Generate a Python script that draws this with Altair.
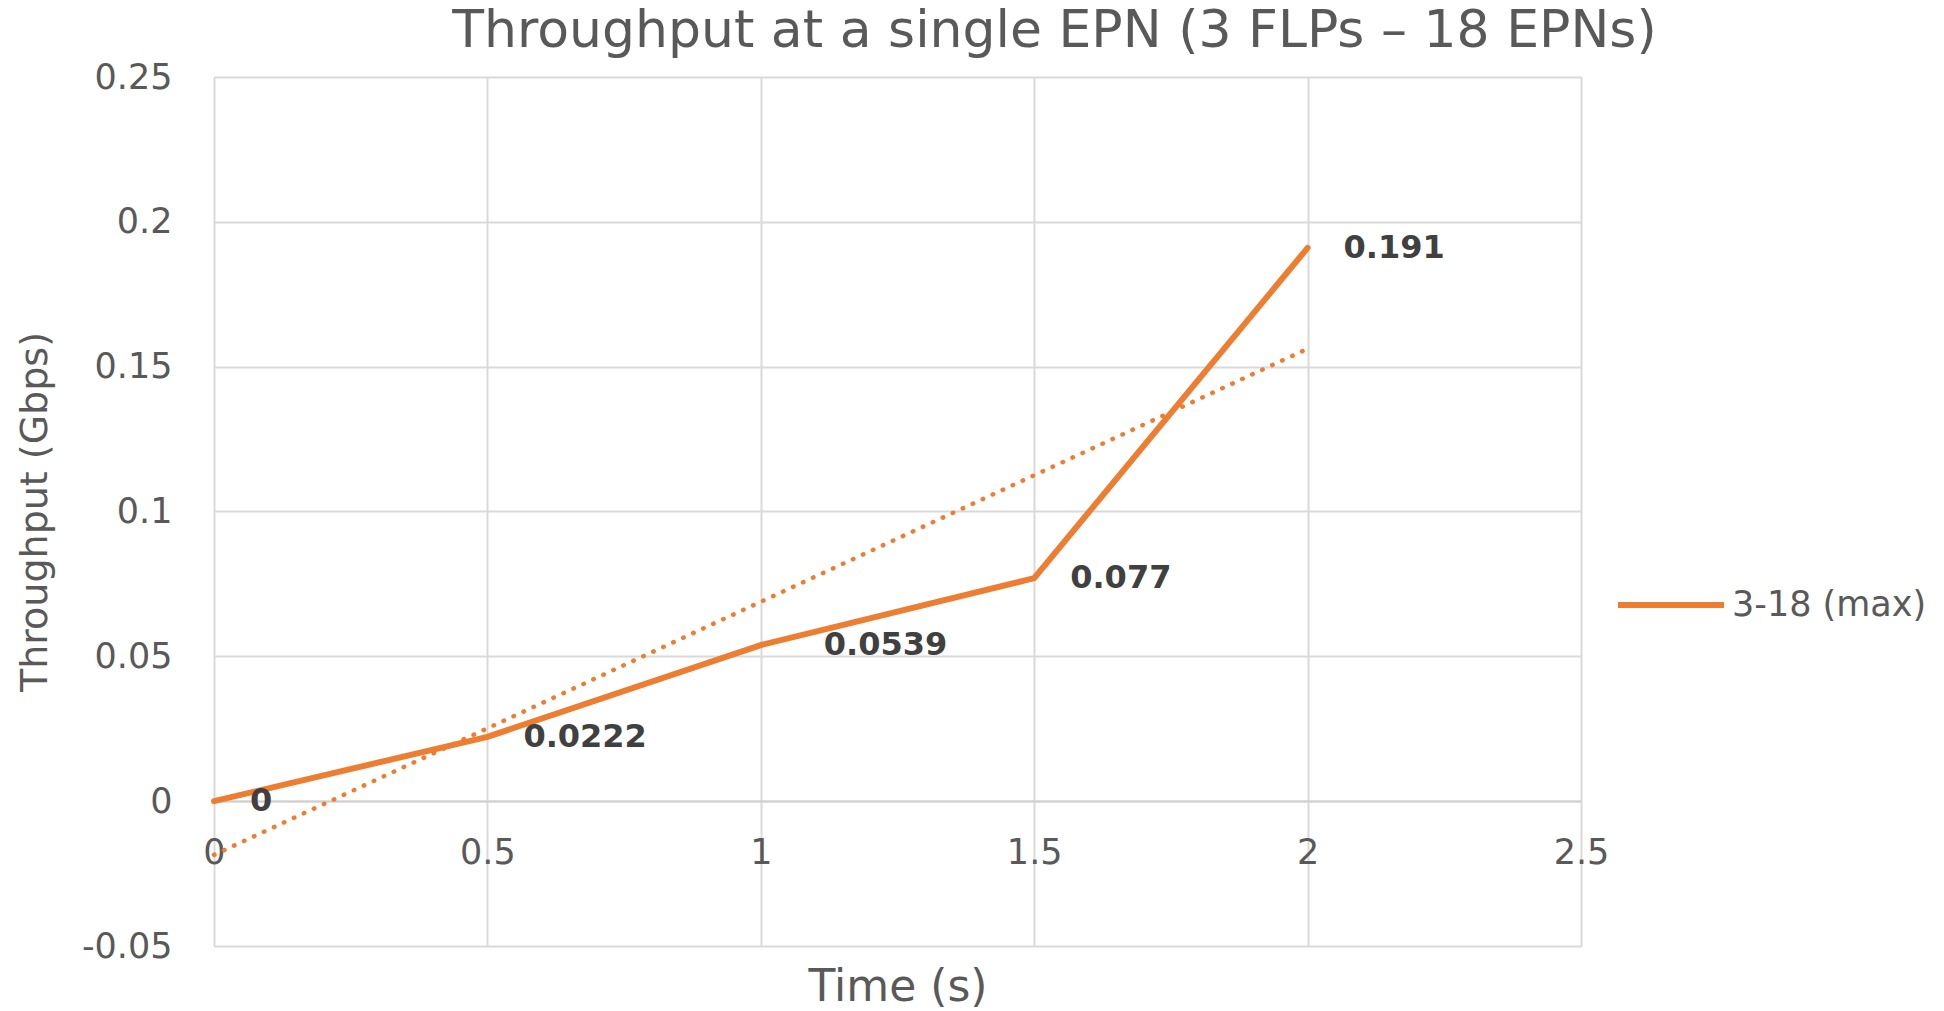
import altair as alt
import pandas as pd

# ---- data ----
times = [0, 0.5, 1, 1.5, 2]
throughput = [0, 0.0222, 0.0539, 0.077, 0.191]
labels = ["0", "0.0222", "0.0539", "0.077", "0.191"]
series = ["3-18 (max)"] * 5
x_ticks = [0, 0.5, 1, 1.5, 2, 2.5]
y_ticks = [-0.05, 0, 0.05, 0.1, 0.15, 0.2, 0.25]

df = pd.DataFrame({"Time": times, "Throughput": throughput,
                   "Label": labels, "Series": series})

FONT = "DejaVu Sans"
ORANGE = "#ED7D31"
GRAY = "#595959"
GRID = "#d9d9d9"

W, H = 1367, 869

x_enc = alt.X(
    "Time:Q",
    scale=alt.Scale(domain=[0, 2.5], nice=False, zero=False),
    axis=alt.Axis(
        values=x_ticks, labelExpr="'' + datum.value", title="Time (s)",
        offset=-145, grid=True, gridColor=GRID, gridWidth=2,
        domain=True, domainColor="#cfcfcf", domainWidth=2, ticks=False,
        labelFont=FONT, labelFontSize=35, labelColor=GRAY, labelPadding=51,
        labelBaseline="middle", labelFlush=False, labelOverlap=False,
        titleFont=FONT, titleFontSize=44, titleColor=GRAY, titleFontWeight="normal",
        titleX=W / 2, titleY=199, titleBaseline="alphabetic",
    ),
)
y_enc = alt.Y(
    "Throughput:Q",
    scale=alt.Scale(domain=[-0.05, 0.25], nice=False, zero=False),
    axis=alt.Axis(
        values=y_ticks, labelExpr="'' + datum.value", title="Throughput (Gbps)",
        grid=True, gridColor=GRID, gridWidth=2, domain=False, ticks=False,
        labelFont=FONT, labelFontSize=35, labelColor=GRAY, labelPadding=42,
        labelFlush=False, labelOverlap=False,
        titleFont=FONT, titleFontSize=38, titleColor=GRAY, titleFontWeight="normal",
        titleX=-179, titleY=H / 2, titleAngle=-90, titleBaseline="middle",
    ),
)

base = alt.Chart(df).encode(x=x_enc, y=y_enc)

trend = base.transform_regression("Time", "Throughput", method="linear").mark_line(
    color=ORANGE, strokeWidth=4.5, strokeDash=[0.5, 10.5], strokeCap="round"
)

line = base.mark_line(strokeWidth=6, strokeCap="round", strokeJoin="round").encode(
    color=alt.Color(
        "Series:N",
        scale=alt.Scale(range=[ORANGE]),
        legend=alt.Legend(
            title=None, orient="none", legendX=1401, legendY=472,
            symbolType="stroke", symbolSize=11236, symbolStrokeWidth=6,
            labelFont=FONT, labelFontSize=35, labelColor=GRAY, labelOffset=5,
            labelLimit=0,
        ),
    )
)

text_main = base.transform_filter("datum.Label != '0.0539'").mark_text(
    align="left", baseline="middle", dx=36, font=FONT, fontSize=32,
    fontWeight="bold", color="#404040"
).encode(text="Label:N")

text_mid = base.transform_filter("datum.Label == '0.0539'").mark_text(
    align="left", baseline="middle", dx=63, font=FONT, fontSize=32,
    fontWeight="bold", color="#404040"
).encode(text="Label:N")

chart = alt.layer(trend, line, text_main, text_mid).properties(
    width=W, height=H,
    title=alt.TitleParams(
        text="Throughput at a single EPN (3 FLPs \u2013 18 EPNs)",
        font=FONT, fontSize=52, fontWeight="normal", color=GRAY,
        anchor="middle", dx=157, offset=-39, baseline="alphabetic",
    ),
    autosize=alt.AutoSizeParams(type="none"),
    padding={"left": 214, "top": 77, "right": 363, "bottom": 65},
).configure_view(stroke=None).configure(background="white")

chart.save("out.html", embed_options={"renderer": "svg", "actions": False})
